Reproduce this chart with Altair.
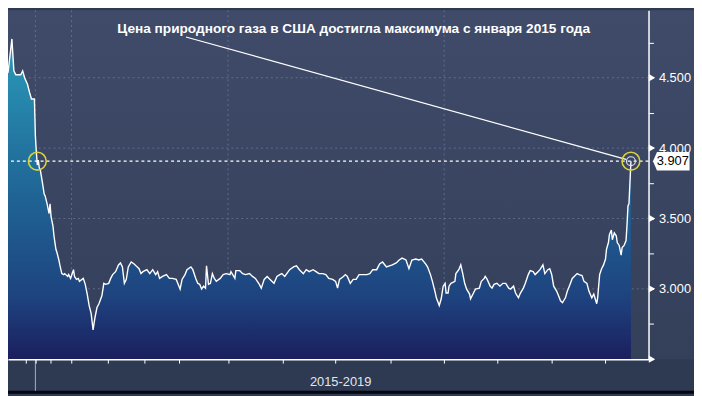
import altair as alt
import pandas as pd

# ---- data (x in weeks-like index units, value in USD/MMBtu) ----
t = [0, 4, 6, 8, 13, 15, 17, 20, 22, 24, 27, 28, 29, 30, 31, 32, 33, 35, 37, 38,
     40, 42, 43, 44, 46, 47, 49, 50, 52, 53, 55, 57, 58, 61, 62, 64, 67, 68, 70, 72,
     73, 77, 79, 81, 83, 85, 87, 89, 91, 93, 96, 98, 100, 103, 105, 107, 110, 113, 115, 117,
     119, 121, 123, 126, 129, 132, 134, 136, 138, 142, 145, 148, 151, 153, 155, 158, 162, 165, 168, 172,
     174, 176, 178, 181, 183, 187, 189, 192, 194, 196, 198, 200, 202, 203, 205, 207, 209, 211, 213, 217,
     220, 223, 227, 228, 232, 233, 237, 240, 243, 247, 250, 253, 257, 259, 262, 265, 268, 272, 275, 278,
     280, 283, 288, 292, 295, 298, 302, 305, 308, 312, 315, 318, 322, 325, 328, 332, 335, 337, 339, 343,
     345, 347, 350, 353, 356, 359, 363, 367, 370, 373, 377, 380, 383, 387, 390, 393, 397, 400, 403, 407,
     410, 413, 417, 420, 423, 427, 429, 432, 434, 437, 438, 441, 443, 445, 447, 448, 450, 451, 453, 457,
     458, 461, 463, 465, 467, 469, 472, 473, 476, 478, 482, 484, 487, 488, 490, 493, 495, 497, 500, 503,
     506, 509, 512, 514, 517, 519, 522, 524, 527, 529, 532, 534, 537, 539, 542, 544, 547, 549, 552, 554,
     556, 558, 561, 563, 565, 567, 570, 572, 574, 577, 579, 582, 584, 587, 589, 592, 594, 597, 599, 602,
     603, 605, 607, 609, 611, 612, 614, 615, 617, 618, 620, 622, 623, 625, 627, 628, 630, 632, 633, 634,
     635, 637]
v = [4.535, 4.776, 4.549, 4.521, 4.521, 4.549, 4.500, 4.452, 4.397, 4.349, 4.349, 4.087, 3.970, 3.880, 3.915, 3.860, 3.846, 3.763, 3.674, 3.660,
     3.604, 3.535, 3.604, 3.515, 3.446, 3.377, 3.281, 3.260, 3.205, 3.170, 3.108, 3.101, 3.108, 3.088, 3.101, 3.074, 3.136, 3.088, 3.067, 3.074,
     3.053, 3.074, 3.032, 2.963, 2.880, 2.825, 2.708, 2.798, 2.867, 2.894, 2.950, 3.039, 3.032, 3.039, 3.074, 3.101, 3.122, 3.170, 3.184, 3.156,
     3.039, 3.067, 3.156, 3.191, 3.177, 3.156, 3.143, 3.108, 3.122, 3.136, 3.108, 3.136, 3.101, 3.122, 3.074, 3.088, 3.101, 3.074, 3.074, 3.067,
     3.032, 2.998, 3.067, 3.101, 3.136, 3.156, 3.136, 3.074, 3.039, 3.032, 2.998, 3.019, 3.005, 3.163, 3.032, 3.039, 3.108, 3.074, 3.053, 3.074,
     3.101, 3.108, 3.101, 3.122, 3.074, 3.129, 3.129, 3.108, 3.101, 3.108, 3.088, 3.074, 3.032, 3.005, 3.067, 3.088, 3.067, 3.039, 3.088, 3.101,
     3.108, 3.088, 3.136, 3.156, 3.163, 3.136, 3.108, 3.136, 3.122, 3.136, 3.122, 3.108, 3.108, 3.101, 3.074, 3.067, 3.053, 3.005, 3.067, 3.088,
     3.101, 3.088, 3.039, 3.067, 3.067, 3.101, 3.101, 3.101, 3.108, 3.136, 3.136, 3.177, 3.191, 3.156, 3.163, 3.170, 3.184, 3.205, 3.218, 3.205,
     3.143, 3.205, 3.212, 3.205, 3.212, 3.177, 3.156, 3.101, 3.053, 2.970, 2.936, 2.881, 2.929, 3.019, 3.039, 2.970, 2.970, 3.019, 3.039, 3.053,
     3.108, 3.136, 3.170, 3.108, 3.039, 2.998, 2.963, 2.929, 2.970, 2.998, 3.005, 3.053, 3.074, 3.088, 3.067, 3.019, 3.005, 3.032, 3.039, 3.019,
     3.039, 3.039, 3.005, 2.998, 3.019, 2.970, 2.936, 2.970, 3.005, 3.039, 3.101, 3.129, 3.122, 3.101, 3.122, 3.136, 3.170, 3.108, 3.136, 3.143,
     3.101, 3.019, 2.984, 2.950, 2.915, 2.901, 2.936, 2.984, 3.019, 3.074, 3.088, 3.108, 3.101, 3.094, 3.053, 3.039, 2.984, 2.936, 2.963, 2.894,
     2.936, 3.101, 3.143, 3.170, 3.212, 3.280, 3.329, 3.384, 3.418, 3.349, 3.398, 3.377, 3.329, 3.308, 3.239, 3.294, 3.308, 3.343, 3.453, 3.591,
     3.604, 3.907]

last_value = 3.907
last_label = "3.907"
x_tick_values = [18, 28, 43, 65, 102, 139, 175, 225, 281, 335, 391, 446, 500, 556, 611]
x_grid_values = [28, 65, 225, 446]
y_major = [3.0, 3.5, 4.0, 4.5]
y_triangles = [2.5, 3.0, 3.5, 4.0, 4.5]
y_tick_values = [2.5, 2.75, 3.0, 3.25, 3.5, 3.75, 4.0, 4.25, 4.5, 4.75]
marker_t = [30, 637]
note_text = "Цена природного газа в США достигла максимума с января 2015 года"
note_t, note_v = [353.5], [4.845]
leader_t, leader_v, leader_t2, leader_v2 = [182], [4.79], [632], [3.92]
period_label = "2015-2019"
long_tick_t = [28]

W, H = 648, 353
PAD_R, PAD_B = 46, 35

df = pd.DataFrame({"t": t, "v": v})

xs = alt.Scale(domain=[0, 655], nice=False, zero=False)
ys = alt.Scale(domain=[2.5, 4.98], nice=False, zero=False)

x_axis = alt.Axis(values=x_tick_values, labels=False, grid=False, zindex=1,
                  domainColor="white", domainWidth=1.5, tickColor="white", tickSize=4,
                  title=period_label, titleColor="#e2e6ee", titleFont="Liberation Sans",
                  titleFontSize=13, titleFontWeight="normal", titleX=336, titleY=27,
                  titleAlign="center", titleBaseline="alphabetic")
y_axis = alt.Axis(orient="right", values=y_tick_values, grid=False, zindex=1,
                  labelExpr="(datum.value % 0.5 == 0 && datum.value > 2.6) ? format(datum.value, '.3f') : ''",
                  labelOverlap=False,
                  domainColor="white", domainWidth=1.5, tickColor="white", tickSize=5,
                  labelColor="white", labelFont="Liberation Sans", labelFontSize=13,
                  labelPadding=5, title=None)


def X(field="t"):
    return alt.X(f"{field}:Q", scale=xs, axis=x_axis)


def Y(field="v"):
    return alt.Y(f"{field}:Q", scale=ys, axis=y_axis)


one = pd.DataFrame({"k": [0]})

bg = alt.Chart(one).mark_rect(
    color=alt.Gradient(gradient="linear", x1=0, x2=0, y1=0, y2=1,
                       stops=[alt.GradientStop(color="#3f4b69", offset=0),
                              alt.GradientStop(color="#343f5a", offset=1)])
).encode(x=alt.value(0), x2=alt.value(W + PAD_R), y=alt.value(0), y2=alt.value(H))

bottom_bar = alt.Chart(one).mark_rect(color="#05070c").encode(
    x=alt.value(0), x2=alt.value(W + PAD_R), y=alt.value(H + 32), y2=alt.value(H + 35))

vgrid = alt.Chart(pd.DataFrame({"t": x_grid_values})).mark_rule(
    color="#7f8cab", opacity=0.55, strokeDash=[2, 3], strokeWidth=1
).encode(x=X())

hgrid = alt.Chart(pd.DataFrame({"v": y_major})).mark_rule(
    color="#7f8cab", opacity=0.55, strokeDash=[2, 3], strokeWidth=1
).encode(y=Y())

area = alt.Chart(df).mark_area(
    color=alt.Gradient(gradient="linear", x1=0, x2=0, y1=0, y2=1,
                       stops=[alt.GradientStop(color="#2a9bb9", offset=0),
                              alt.GradientStop(color="#1f6394", offset=0.5),
                              alt.GradientStop(color="#1e4480", offset=0.8),
                              alt.GradientStop(color="#1b1f5e", offset=1)])
).encode(x=X(), y=Y(), y2=alt.datum(2.5))

line = alt.Chart(df).mark_line(color="white", strokeWidth=1.4).encode(x=X(), y=Y())

level = alt.Chart(pd.DataFrame({"v": [last_value]})).mark_rule(
    color="white", strokeDash=[3, 3], strokeWidth=1.3
).encode(y=Y())

leader = alt.Chart(pd.DataFrame({"t": leader_t, "v": leader_v, "t2": leader_t2, "v2": leader_v2})).mark_rule(
    color="white", strokeWidth=1.2
).encode(x=X(), y=Y(), x2="t2:Q", y2="v2:Q")

note = alt.Chart(pd.DataFrame({"t": note_t, "v": note_v, "s": [note_text]})).mark_text(
    color="white", font="Liberation Sans", fontSize=13.8, fontWeight="bold",
    align="center", baseline="middle"
).encode(x=X(), y=Y(), text="s:N")

marks_df = pd.DataFrame({"t": marker_t, "v": [last_value] * len(marker_t)})
rings = alt.Chart(marks_df).mark_point(
    shape="circle", size=324, filled=False, color="#d9d23c", strokeWidth=1.6, opacity=1
).encode(x=X(), y=Y())

inner = alt.Chart(pd.DataFrame({"t": [marker_t[-1]], "v": [last_value]})).mark_point(
    shape="circle", size=81, filled=False, color="#e0e4ec", strokeWidth=1.2, opacity=1
).encode(x=X(), y=Y())

long_tick = alt.Chart(pd.DataFrame({"t": long_tick_t})).mark_rule(
    color="#a9b1c3", strokeWidth=1
).encode(x=X(), y=alt.value(H), y2=alt.value(H + 32))

tri = alt.Chart(pd.DataFrame({"v": y_triangles})).mark_point(
    shape="triangle-right", size=55, filled=True, color="white", opacity=1
).encode(x=alt.value(W + 3.5), y=Y())

box = alt.Chart(pd.DataFrame({"v": [last_value]})).mark_point(
    shape="M-1,0L-0.78,-0.51L1,-0.51L1,0.51L-0.78,0.51Z", size=1369, filled=True,
    color="white", opacity=1
).encode(x=alt.value(W + 23), y=Y())

box_text = alt.Chart(pd.DataFrame({"v": [last_value], "s": [last_label]})).mark_text(
    color="black", font="Liberation Sans", fontSize=13, align="center", baseline="middle"
).encode(x=alt.value(W + 24.5), y=Y(), text="s:N")

chart = alt.layer(
    bg, bottom_bar, vgrid, hgrid, area, line, level, leader, note,
    rings, inner, long_tick, tri, box, box_text
).properties(
    width=W, height=H,
    autosize=alt.AutoSizeParams(type="none"),
    padding={"left": 0, "top": 0, "right": PAD_R, "bottom": PAD_B},
    background="#2e3a52",
).configure_view(strokeWidth=0)

chart.save("out.html", embed_options={"renderer": "svg", "actions": False})
